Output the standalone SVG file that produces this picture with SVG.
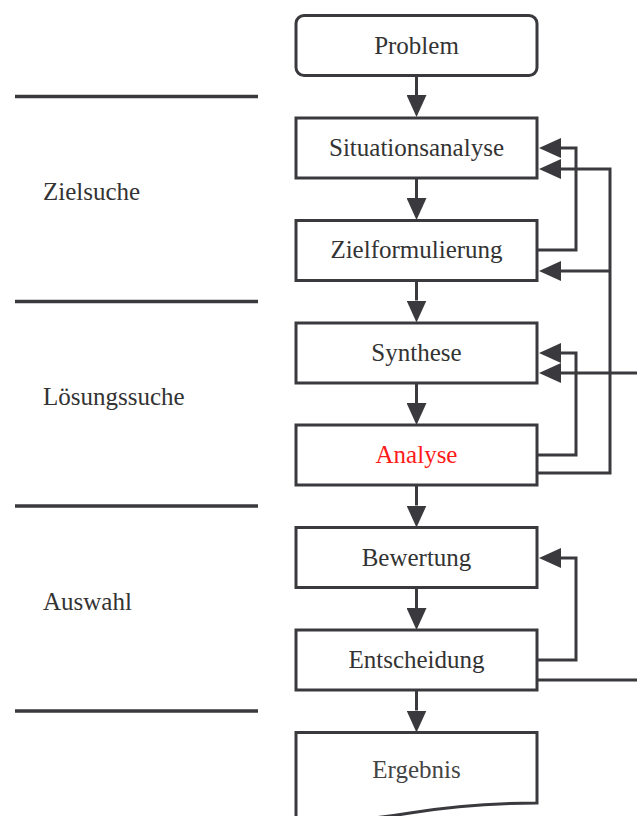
<svg xmlns="http://www.w3.org/2000/svg" width="637" height="816" viewBox="0 0 637 816">
<style>
.box{fill:#fff;stroke:#3a3a3e;stroke-width:3}
.sep{stroke:#3a3a3e;stroke-width:3.5}
.con{fill:none;stroke:#3a3a3e;stroke-width:3}
.t{font-family:"Liberation Serif","Times New Roman",serif;font-size:25px;fill:#333}
.c{text-anchor:middle}
.red{fill:#ff1a1a}
.gray{fill:#444}
</style>
<defs>
<marker id="ah" markerWidth="22" markerHeight="20" refX="0" refY="10" orient="auto" markerUnits="userSpaceOnUse"><path d="M0,0 L22,10 L0,20 z" fill="#3a3a3e"/></marker>
</defs>
<g id="separators">
<line class="sep" x1="15" y1="96.5" x2="258" y2="96.5"/>
<line class="sep" x1="15" y1="301.5" x2="258" y2="301.5"/>
<line class="sep" x1="15" y1="506" x2="258" y2="506"/>
<line class="sep" x1="15" y1="711" x2="258" y2="711"/>
</g>
<g id="label-zielsuche"><text class="t" x="43" y="200">Zielsuche</text></g>
<g id="label-loesungssuche"><text class="t" x="43" y="405">Lösungssuche</text></g>
<g id="label-auswahl"><text class="t" x="43" y="610">Auswahl</text></g>
<g id="connectors">
<path class="con" d="M416.5,75.5 V95" marker-end="url(#ah)"/>
<path class="con" d="M416.5,178 V198" marker-end="url(#ah)"/>
<path class="con" d="M416.5,280.5 V300.5" marker-end="url(#ah)"/>
<path class="con" d="M416.5,383 V403" marker-end="url(#ah)"/>
<path class="con" d="M416.5,485 V505.5" marker-end="url(#ah)"/>
<path class="con" d="M416.5,587.5 V608" marker-end="url(#ah)"/>
<path class="con" d="M416.5,690 V710.5" marker-end="url(#ah)"/>
<path class="con" d="M537,250 H576 V148 H561" marker-end="url(#ah)"/>
<path class="con" d="M537,473 H610 V169 H561" marker-end="url(#ah)"/>
<path class="con" d="M610,271 H561" marker-end="url(#ah)"/>
<path class="con" d="M537,455 H576 V353 H561" marker-end="url(#ah)"/>
<path class="con" d="M637,373 H561" marker-end="url(#ah)"/>
<path class="con" d="M537,660 H576 V558 H561" marker-end="url(#ah)"/>
<path class="con" d="M537,680 H637"/>
</g>
<g id="problem"><rect class="box" x="296" y="15.5" width="241" height="60" rx="8"/><text class="t c" x="416.5" y="54">Problem</text></g>
<g id="situationsanalyse"><rect class="box" x="296" y="118" width="241" height="60"/><text class="t c" x="416.5" y="156">Situationsanalyse</text></g>
<g id="zielformulierung"><rect class="box" x="296" y="220.5" width="241" height="60"/><text class="t c" x="416.5" y="258">Zielformulierung</text></g>
<g id="synthese"><rect class="box" x="296" y="323" width="241" height="60"/><text class="t c" x="416.5" y="361">Synthese</text></g>
<g id="analyse"><rect class="box" x="296" y="425" width="241" height="60"/><text class="t c red" x="416.5" y="463">Analyse</text></g>
<g id="bewertung"><rect class="box" x="296" y="527.5" width="241" height="60"/><text class="t c" x="416.5" y="566">Bewertung</text></g>
<g id="entscheidung"><rect class="box" x="296" y="630" width="241" height="60"/><text class="t c" x="416.5" y="668">Entscheidung</text></g>
<g id="ergebnis"><path class="box" d="M296,830 V732.5 H537 V803 C480,803 440,808 410,813 C380,818 340,822 296,822"/><text class="t c gray" x="416.5" y="778">Ergebnis</text></g>
</svg>
